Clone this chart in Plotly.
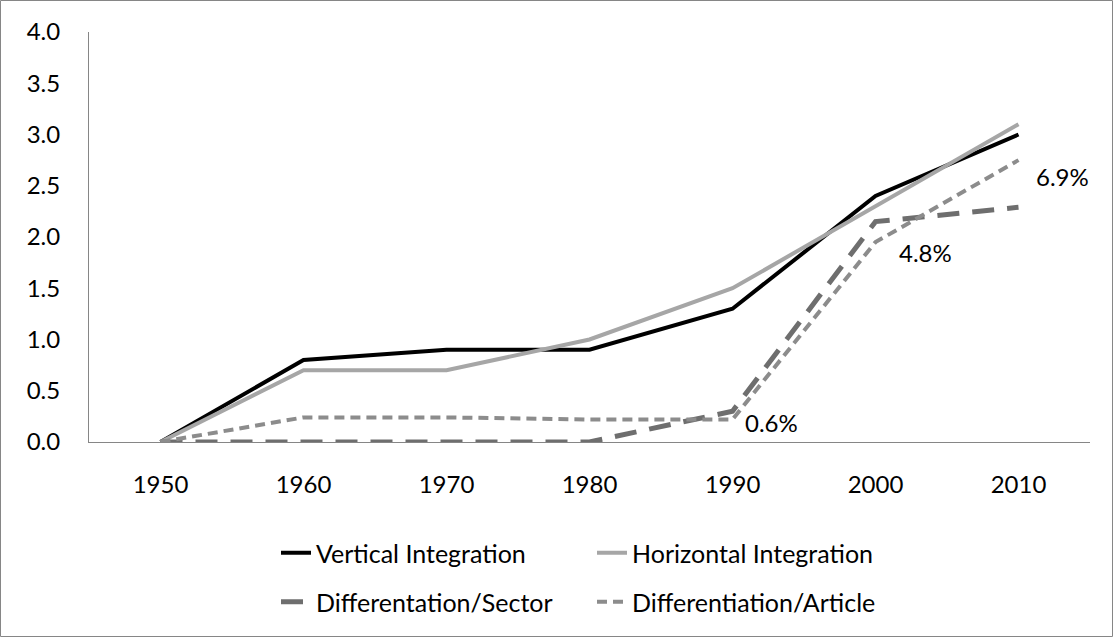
import plotly.graph_objects as go

years = ["1950", "1960", "1970", "1980", "1990", "2000", "2010"]
vertical = [0.0, 0.8, 0.9, 0.9, 1.3, 2.4, 3.0]
horizontal = [0.0, 0.7, 0.7, 1.0, 1.5, 2.3, 3.1]
sector = [0.0, 0.0, 0.0, 0.0, 0.3, 2.15, 2.29]
article = [0.0, 0.24, 0.24, 0.22, 0.22, 1.95, 2.75]
article_labels = ["", "", "", "", "0.6%", "4.8%", "6.9%"]

W, H = 1113, 637
ML, MR, MT, MB = 89, 23, 32, 195
FONT = "Lato, 'Open Sans', sans-serif"
FS = 24
FS_LEG = 25

fig = go.Figure()

fig.add_trace(go.Scatter(
    x=years, y=vertical, mode="lines", name="Vertical Integration",
    line=dict(color="#000000", width=4), legend="legend",
))
fig.add_trace(go.Scatter(
    x=years, y=horizontal, mode="lines", name="Horizontal Integration",
    line=dict(color="#A6A6A6", width=4), legend="legend",
))
fig.add_trace(go.Scatter(
    x=years, y=sector, mode="lines", name="Differentation/Sector",
    line=dict(color="#6E6E6E", width=5, dash="22px,13px"), legend="legend2",
))
fig.add_trace(go.Scatter(
    x=years, y=article, mode="lines", name="Differentiation/Article",
    line=dict(color="#8C8C8C", width=4, dash="10px,6px"), legend="legend2",
))

# data labels on the article series (x given as category index)
shifts = {4: (10, -3), 5: (21, -10), 6: (15, -16)}
for i, lab in enumerate(article_labels):
    if not lab:
        continue
    dx, dy = shifts[i]
    fig.add_annotation(
        x=i, y=article[i], text=lab, showarrow=False,
        xanchor="left", yanchor="middle", xshift=dx, yshift=dy,
        font=dict(family=FONT, size=FS, color="#000000"),
    )

pw = W - ML - MR
ph = H - MT - MB
fig.add_shape(
    type="rect", xref="paper", yref="paper",
    x0=-(ML - 0.5) / pw, x1=1 + (MR - 0.5) / pw,
    y0=-(MB - 0.5) / ph, y1=1 + (MT - 0.5) / ph,
    line=dict(color="#868686", width=1), layer="below",
)

leg_common = dict(
    orientation="h", xanchor="left", yanchor="middle",
    x=(276 - ML) / pw, entrywidth=271, entrywidthmode="pixels",
    font=dict(family=FONT, size=FS_LEG, color="#000000"),
    bgcolor="rgba(0,0,0,0)", traceorder="normal",
)

fig.update_layout(
    width=W, height=H,
    margin=dict(l=ML, r=MR, t=MT, b=MB, pad=0),
    paper_bgcolor="white", plot_bgcolor="white",
    font=dict(family=FONT, size=FS, color="#000000"),
    legend=dict(y=-(553 - (H - MB)) / ph, **leg_common),
    legend2=dict(y=-(602 - (H - MB)) / ph, **leg_common),
    xaxis=dict(
        type="category", range=[-0.5, 6.5], showgrid=False,
        showline=True, linecolor="#868686", linewidth=1,
        ticks="", tickfont=dict(family=FONT, size=FS), ticklabelstandoff=21,
    ),
    yaxis=dict(
        range=[0, 4.0], dtick=0.5, tickformat=".1f", showgrid=False,
        showline=True, linecolor="#868686", linewidth=1, zeroline=False,
        ticks="", tickfont=dict(family=FONT, size=FS), ticklabelstandoff=23,
    ),
)

fig.write_html(
    "out.html",
    config={"displayModeBar": False},
    post_script="document.body.style.margin='0';",
)
